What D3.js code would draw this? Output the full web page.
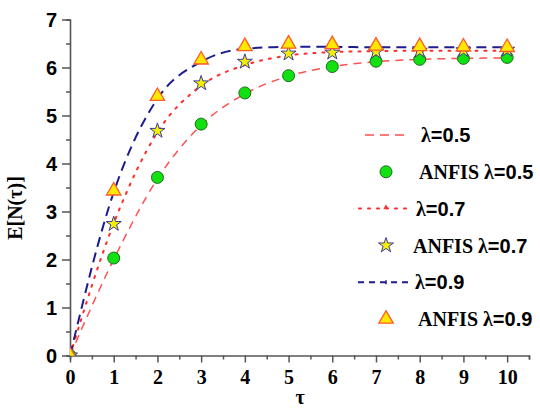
<!DOCTYPE html>
<html><head><meta charset="utf-8">
<script src="https://cdn.jsdelivr.net/npm/d3@7"></script>
<style>body{margin:0;background:#fff}svg{display:block}</style>
</head><body>
<svg id="c" width="540" height="411"></svg>
<script>
const tau = [0,1,2,3,4,5,6,7,8,9,10];
const line05 = [0,2.0,3.68,4.8,5.45,5.82,6.02,6.12,6.17,6.19,6.2];
const line07 = [0,2.75,4.65,5.62,6.05,6.25,6.32,6.34,6.35,6.35,6.35];
const line09 = [0,3.4,5.35,6.12,6.39,6.43,6.43,6.42,6.42,6.42,6.42];
const anfis05 = [0,2.03,3.71,4.82,5.47,5.83,6.02,6.13,6.17,6.19,6.21];
const anfis07 = [0,2.74,4.68,5.67,6.12,6.29,6.31,6.33,6.35,6.36,6.37];
const anfis09 = [0,3.43,5.40,6.16,6.44,6.49,6.48,6.45,6.44,6.43,6.42];
const xTicks = [0,1,2,3,4,5,6,7,8,9,10];
const yTicks = [0,1,2,3,4,5,6,7];
const legendLabels = ["λ=0.5","ANFIS λ=0.5","λ=0.7","ANFIS λ=0.7","λ=0.9","ANFIS λ=0.9"];

const svg = d3.select("#c");
const x = d3.scaleLinear().domain([0,10.5]).range([70,529]);
const y = d3.scaleLinear().domain([0,7]).range([355.5,19.5]);
const axisCol = "#555";

svg.append("clipPath").attr("id","clip").append("rect")
  .attr("x",x(0)).attr("y",y(7)).attr("width",x(10.5)-x(0)).attr("height",y(0)-y(7));

const xAxis = svg.append("g").attr("transform",`translate(0,${y(0)})`);
xAxis.call(d3.axisBottom(x).tickValues(d3.range(0,10.51,0.5)).tickSize(4).tickFormat(""));
xAxis.call(g=>g.selectAll(".tick line").attr("stroke",axisCol).attr("stroke-width",1.5)
  .attr("y2",d=>Number.isInteger(d)?7:4));
xAxis.select(".domain").attr("stroke",axisCol).attr("stroke-width",1.6);
xAxis.selectAll(".tick").filter(d=>xTicks.includes(d)).append("text")
  .attr("y",28).attr("fill","#000").attr("text-anchor","middle")
  .style("font-family","'Liberation Serif',serif").style("font-weight","bold").style("font-size","20px")
  .text(d=>d);

const yAxis = svg.append("g").attr("transform",`translate(${x(0)},0)`);
yAxis.call(d3.axisLeft(y).tickValues(d3.range(0,7.01,0.5)).tickSize(4).tickFormat(""));
yAxis.call(g=>g.selectAll(".tick line").attr("stroke",axisCol).attr("stroke-width",1.5)
  .attr("x2",d=>Number.isInteger(d)?-8:-4));
yAxis.select(".domain").attr("stroke",axisCol).attr("stroke-width",1.6);
yAxis.selectAll(".tick").filter(d=>yTicks.includes(d)).append("text")
  .attr("x",-13).attr("dy","0.36em").attr("fill","#000").attr("text-anchor","end")
  .style("font-family","'Liberation Sans',sans-serif").style("font-weight","bold").style("font-size","20px")
  .text(d=>d);

svg.append("text").attr("x",300).attr("y",404).attr("text-anchor","middle")
  .style("font-family","'Liberation Serif',serif").style("font-weight","bold").style("font-size","20px").text("τ");
svg.append("text").attr("transform","translate(22,208) rotate(-90)").attr("text-anchor","middle")
  .style("font-family","'Liberation Serif',serif").style("font-weight","bold").style("font-size","20px").text("E[N(τ)]");

const plot = svg.append("g").attr("clip-path","url(#clip)");
const lineGen = d3.line().x((d,i)=>x(tau[i])).y(d=>y(d)).curve(d3.curveMonotoneX);

const c05 = "#ff5050", c07 = "#ff2a2a", c09 = "#1c1c8e";
plot.append("path").datum(line05).attr("d",lineGen).attr("fill","none")
  .attr("stroke",c05).attr("stroke-width",1.5).attr("stroke-dasharray","8,6");
plot.append("path").datum(line07).attr("d",lineGen).attr("fill","none")
  .attr("stroke",c07).attr("stroke-width",2).attr("stroke-dasharray","2,7").attr("stroke-linecap","round");
plot.append("path").datum(line09).attr("d",lineGen).attr("fill","none")
  .attr("stroke",c09).attr("stroke-width",2).attr("stroke-dasharray","10,6");

const star = d3.symbol().type(d3.symbolStar).size(70);
const tri = d3.symbol().type(d3.symbolTriangle).size(90);

plot.selectAll(".c05").data(anfis05).join("circle")
  .attr("cx",(d,i)=>x(tau[i])).attr("cy",d=>y(d)).attr("r",6)
  .attr("fill","#11e011").attr("stroke","#1f6b1f").attr("stroke-width",1);
plot.selectAll(".s07").data(anfis07).join("path")
  .attr("transform",(d,i)=>`translate(${x(tau[i])},${y(d)})`).attr("d",star)
  .attr("fill","#f5f000").attr("stroke","#3a3aa0").attr("stroke-width",1);
plot.selectAll(".t09").data(anfis09).join("path")
  .attr("transform",(d,i)=>`translate(${x(tau[i])},${y(d)})`).attr("d",tri)
  .attr("fill","#ffe800").attr("stroke","#ff5a2a").attr("stroke-width",1.3);

const lg = svg.append("g");
const rowY = i => 135 + i*36.8;
function labelText(g, xx, yy, label){
  const t = g.append("text").attr("x",xx).attr("y",yy).attr("dy","0.36em").style("font-weight","bold").style("font-size","20px");
  const parts = label.split("=");
  t.append("tspan").style("font-family","'Liberation Serif',serif").text(parts[0]);
  t.append("tspan").style("font-family","'Liberation Sans',sans-serif").text("="+parts[1]);
}
lg.append("line").attr("x1",365).attr("x2",406).attr("y1",rowY(0)).attr("y2",rowY(0))
  .attr("stroke",c05).attr("stroke-width",1.5).attr("stroke-dasharray","9,6");
labelText(lg,421,rowY(0),legendLabels[0]);
lg.append("circle").attr("cx",386).attr("cy",rowY(1)).attr("r",6)
  .attr("fill","#11e011").attr("stroke","#1f6b1f");
labelText(lg,419,rowY(1),legendLabels[1]);
lg.append("line").attr("x1",359).attr("x2",412).attr("y1",rowY(2)).attr("y2",rowY(2))
  .attr("stroke",c07).attr("stroke-width",2).attr("stroke-dasharray","2,7").attr("stroke-linecap","round");
lg.append("path").attr("transform",`translate(386,${rowY(2)-1})`).attr("d",d3.symbol().type(d3.symbolTriangle).size(12)).attr("fill",c07);
labelText(lg,416,rowY(2),legendLabels[2]);
lg.append("path").attr("transform",`translate(386,${rowY(3)})`).attr("d",star)
  .attr("fill","#f5f000").attr("stroke","#3a3aa0");
labelText(lg,413,rowY(3),legendLabels[3]);
lg.append("line").attr("x1",358).attr("x2",412).attr("y1",rowY(4)).attr("y2",rowY(4))
  .attr("stroke",c09).attr("stroke-width",2).attr("stroke-dasharray","6,5");
lg.append("line").attr("x1",386).attr("x2",386).attr("y1",rowY(4)-2).attr("y2",rowY(4)+2).attr("stroke",c09).attr("stroke-width",1.5);
labelText(lg,415,rowY(4),legendLabels[4]);
lg.append("path").attr("transform",`translate(386,${rowY(5)})`).attr("d",tri)
  .attr("fill","#ffe800").attr("stroke","#ff5a2a").attr("stroke-width",1.3);
labelText(lg,418,rowY(5),legendLabels[5]);
</script>
</body></html>
